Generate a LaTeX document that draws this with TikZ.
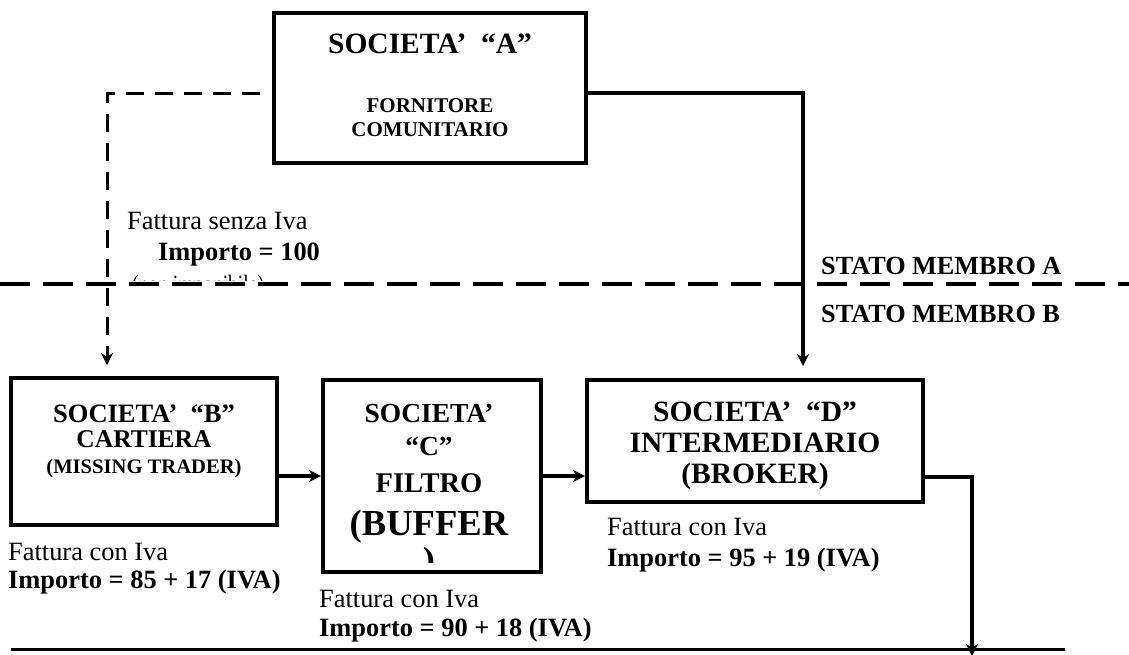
\documentclass[tikz,border=0pt]{standalone}
\usepackage{fontspec}
\setmainfont{Liberation Serif}
\usetikzlibrary{arrows.meta}
\newcommand{\myfs}[1]{\fontsize{#1}{#1}\selectfont}
\begin{document}
\begin{tikzpicture}[x=1pt,y=-1pt,
  box/.style={draw, line width=4pt, inner sep=0pt},
  tc/.style={inner sep=0pt, anchor=base},
  tl/.style={inner sep=0pt, anchor=base west},
  conn/.style={line width=3.5pt, -{Stealth[length=12pt,width=12pt]}},
  dconn/.style={line width=3pt, dash pattern=on 18pt off 11pt, -{Stealth[length=12pt,width=12pt]}},
  border/.style={line width=4.5pt, dash pattern=on 30pt off 13pt},
  baseline/.style={line width=3pt}]
\useasboundingbox (0,0) rectangle (1129,654);

% boxes
\node[box, minimum width=312pt, minimum height=150pt] (A) at (430,88) {};
\node[box, minimum width=266pt, minimum height=147pt] (B) at (144,451.5) {};
\node[box, minimum width=218pt, minimum height=192pt] (C) at (432,476) {};
\node[box, minimum width=336pt, minimum height=122pt] (D) at (755,441) {};

% box texts
\node[tc] (At1) at (430,53) {\myfs{29.5}\bfseries SOCIETA’ \ “A”};
\node[tc] (At2) at (430,112) {\myfs{21}\bfseries FORNITORE};
\node[tc] (At3) at (430,136) {\myfs{21}\bfseries COMUNITARIO};

\node[tc] (Bt1) at (144,422) {\myfs{26.5}\bfseries SOCIETA’ \ “B”};
\node[tc] (Bt2) at (144,447) {\myfs{25.5}\bfseries CARTIERA};
\node[tc] (Bt3) at (144,473) {\myfs{20.6}\bfseries (MISSING TRADER)};

\begin{scope}
  \clip (323,380) rectangle (541,562);
  \node[tc] (Ct1) at (429,422) {\myfs{27.5}\bfseries SOCIETA’};
  \node[tc] (Ct2) at (429,455) {\myfs{27.5}\bfseries “C”};
  \node[tc] (Ct3) at (429,492) {\myfs{28.5}\bfseries FILTRO};
  \node[tc] (Ct4) at (429,535) {\myfs{36.6}\bfseries (BUFFER};
  \node[tc] (Ct5) at (429,572) {\myfs{36.6}\bfseries )};
\end{scope}

\node[tc] (Dt1) at (755,421) {\myfs{29.5}\bfseries SOCIETA’ \ “D”};
\node[tc] (Dt2) at (755,452) {\myfs{29.5}\bfseries INTERMEDIARIO};
\node[tc] (Dt3) at (755,483) {\myfs{29.5}\bfseries (BROKER)};

% invoice labels
\node[tl] (L1a) at (127,229) {\myfs{26.4}Fattura senza Iva};
\node[tl] (L1b) at (158,260) {\myfs{26.4}\bfseries Importo = 100};
\begin{scope}
  \clip (100,262) rectangle (400,280.5);
  \node[tl, xscale=0.74] (L1c) at (132,293) {\myfs{26.4}(non imponibile)};
\end{scope}

\node[tl] (L2a) at (8,560) {\myfs{26.4}Fattura con Iva};
\node[tl] (L2b) at (8,588) {\myfs{26.4}\bfseries Importo = 85 + 17 (IVA)};
\node[tl] (L3a) at (319,607) {\myfs{26.4}Fattura con Iva};
\node[tl] (L3b) at (319,636) {\myfs{26.4}\bfseries Importo = 90 + 18 (IVA)};
\node[tl] (L4a) at (607,535) {\myfs{26.4}Fattura con Iva};
\node[tl] (L4b) at (607,566) {\myfs{26.4}\bfseries Importo = 95 + 19 (IVA)};

% member state labels
\node[tl] (SA) at (821,274) {\myfs{26.2}\bfseries STATO MEMBRO A};
\node[tl] (SB) at (821,322) {\myfs{26.2}\bfseries STATO MEMBRO B};

% border between member states
\coordinate (bl) at (0,284);
\coordinate (br) at (1129,284);
\draw[border] (bl) -- (br);

% bottom line
\coordinate (gl) at (11,649);
\coordinate (gr) at (1065,649);
\draw[baseline] (gl) -- (gr);

% connectors
\draw[conn, shorten >=12pt] ([yshift=-5pt]A.east) -| ([xshift=48pt]D.north);
\draw[dconn, shorten <=12pt, shorten >=11pt] ([yshift=-5pt]A.west) -| ([xshift=-37pt]B.north);
\draw[conn] (B.east |- C.west) -- (C.west);
\draw[conn] (C.east) -- (C.east -| D.west);
\coordinate (out) at (972,656);
\draw[conn] ([yshift=-36pt]D.east) -| (out);
\end{tikzpicture}
\end{document}
